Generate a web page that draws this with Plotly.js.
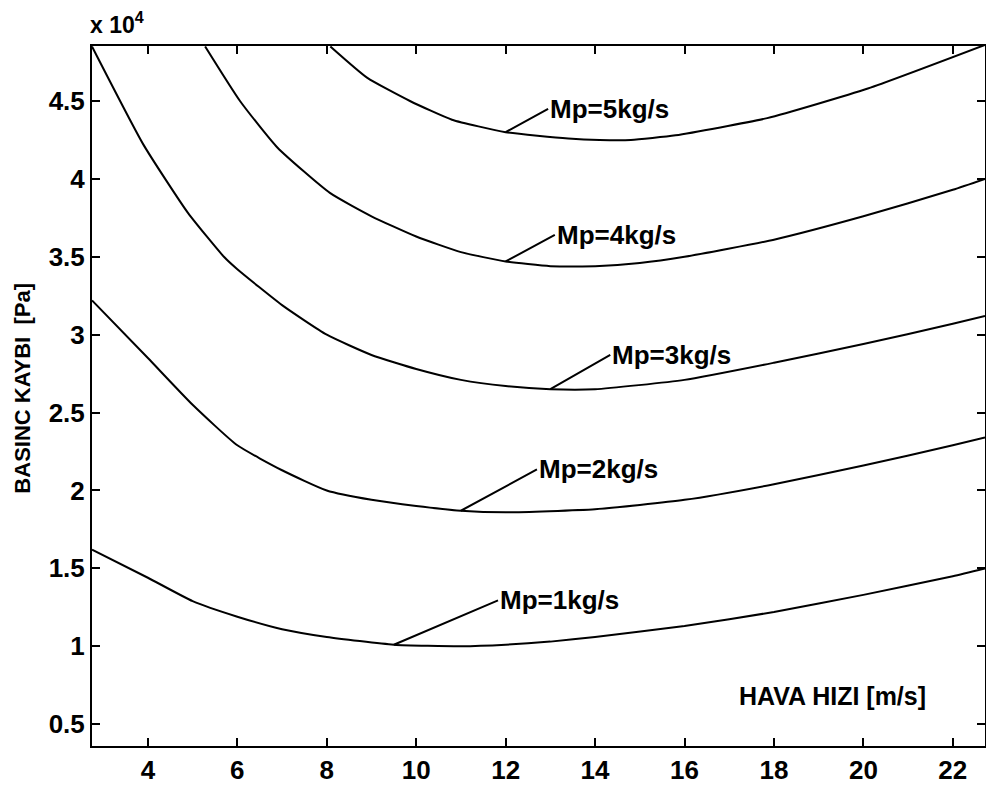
<!DOCTYPE html>
<html>
<head>
<meta charset="utf-8">
<script src="https://cdn.plot.ly/plotly-3.0.1.min.js"></script>
<style>html,body{margin:0;padding:0;background:#fff;}#chart{width:986px;height:788px;}</style>
</head>
<body>
<div id="chart"></div>
<script>
// Air velocity [m/s] and pressure loss [Pa] for each particle mass flow
const x1 = [2.75, 4, 5, 6, 7, 8, 9.5, 11, 12, 13, 14, 16, 18, 20, 22, 22.72];
const y1 = [16200, 14400, 12900, 11900, 11100, 10600, 10100, 10000, 10100, 10300, 10600, 11300, 12200, 13300, 14500, 15000];

const x2 = [2.75, 4, 5, 6, 7, 8, 9, 10, 11, 12, 14, 16, 18, 20, 22, 22.72];
const y2 = [32200, 28500, 25500, 22900, 21300, 20000, 19400, 19000, 18700, 18600, 18800, 19400, 20400, 21600, 22900, 23400];

const x3 = [2.75, 3.9, 4.9, 5.7, 6, 7, 8, 9, 10, 11, 12, 13, 14, 16, 18, 20, 22, 22.72];
const y3 = [48500, 42200, 37800, 35000, 34200, 31900, 30000, 28700, 27800, 27100, 26700, 26500, 26500, 27100, 28200, 29400, 30700, 31200];

const x4 = [5.28, 6.06, 6.9, 8.07, 9, 10, 11, 12, 13, 14, 15, 16, 18, 20, 22, 22.72];
const y4 = [48500, 45000, 42000, 39100, 37600, 36300, 35300, 34700, 34400, 34400, 34600, 35000, 36100, 37600, 39300, 40000];

const x5 = [8.08, 8.9, 9.86, 10.8, 12.0, 13.4, 14.1, 14.8, 15.8, 17.85, 20.1, 22.72];
const y5 = [48500, 46500, 45000, 43800, 43000, 42600, 42500, 42500, 42800, 43900, 45800, 48600];

const labels = ['Mp=1kg/s', 'Mp=2kg/s', 'Mp=3kg/s', 'Mp=4kg/s', 'Mp=5kg/s'];
// label anchor (data coords) and index of the curve point the leader line points to
const labelX = [11.83, 12.7, 14.34, 13.1, 12.95];
const labelY = [12950, 21350, 28700, 36400, 44500];
const pointIdx = [6, 8, 11, 7, 4];

const xTickVals = [4, 6, 8, 10, 12, 14, 16, 18, 20, 22];
const xTickText = ['4', '6', '8', '10', '12', '14', '16', '18', '20', '22'];
const yTickVals = [5000, 10000, 15000, 20000, 25000, 30000, 35000, 40000, 45000];
const yTickText = ['0.5', '1', '1.5', '2', '2.5', '3', '3.5', '4', '4.5'];

const xs = [x1, x2, x3, x4, x5];
const ys = [y1, y2, y3, y4, y5];

const font = {family: 'Liberation Sans, Arial, sans-serif', color: '#000', weight: 'bold'};

const traces = xs.map((xx, i) => ({
  x: xx, y: ys[i], type: 'scatter', mode: 'lines', name: labels[i],
  line: {color: '#000', width: 2, shape: 'spline', smoothing: 0.5},
  hoverinfo: 'x+y'
}));

const annotations = labels.map((t, i) => ({
  x: xs[i][pointIdx[i]], y: ys[i][pointIdx[i]], xref: 'x', yref: 'y',
  ax: labelX[i], ay: labelY[i], axref: 'x', ayref: 'y',
  text: t, showarrow: true, arrowhead: 0, arrowwidth: 2, arrowcolor: '#000',
  xanchor: 'left', yanchor: 'middle', standoff: 0, startstandoff: 0,
  font: Object.assign({}, font, {size: 26})
}));

annotations.push({
  x: 19.3, y: 6800, xref: 'x', yref: 'y', text: 'HAVA HIZI [m/s]', showarrow: false,
  xanchor: 'center', yanchor: 'middle', font: Object.assign({}, font, {size: 25})
});
annotations.push({
  x: -0.078, y: 0.511, xref: 'paper', yref: 'paper', text: 'BASINC KAYBI  [Pa]', textangle: -90,
  showarrow: false, xanchor: 'center', yanchor: 'middle', font: Object.assign({}, font, {size: 22})
});
annotations.push({
  x: -0.004, y: 1.0, xref: 'paper', yref: 'paper', text: 'x 10<sup>4</sup>', showarrow: false,
  xanchor: 'left', yanchor: 'bottom', yshift: 6, font: Object.assign({}, font, {size: 23})
});

const axisCommon = {
  showgrid: false, zeroline: false, showline: true, linecolor: '#000', linewidth: 2,
  mirror: 'ticks', ticks: 'inside', ticklen: 8, tickwidth: 2, tickcolor: '#000',
  tickfont: Object.assign({}, font, {size: 26}), tickmode: 'array'
};

const layout = {
  width: 986, height: 788,
  margin: {l: 92, r: 1, t: 46, b: 42},
  paper_bgcolor: '#fff', plot_bgcolor: '#fff',
  showlegend: false,
  xaxis: Object.assign({}, axisCommon, {range: [2.75, 22.72], tickvals: xTickVals, ticktext: xTickText}),
  yaxis: Object.assign({}, axisCommon, {range: [3600, 48530], tickvals: yTickVals, ticktext: yTickText}),
  annotations: annotations
};

Plotly.newPlot('chart', traces, layout, {displayModeBar: false, staticPlot: true});
</script>
</body>
</html>
